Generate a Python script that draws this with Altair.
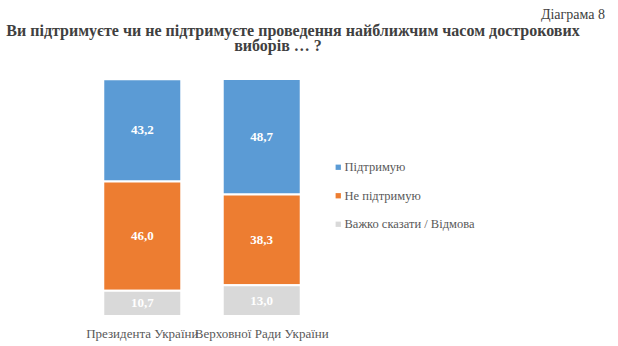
import altair as alt
import pandas as pd

categories = ["Президента України", "Верховної Ради України"]
series = ["Підтримую", "Не підтримую", "Важко сказати / Відмова"]
support = [43.2, 48.7]
oppose = [46.0, 38.3]
hard = [10.7, 13.0]
colors = ["#5b9bd5", "#ed7d31", "#d9d9d9"]
title_lines = ["Ви підтримуєте чи не підтримуєте проведення найближчим часом дострокових", "виборів … ?"]
diagram_label = "Діаграма 8"

rows = []
for i, c in enumerate(categories):
    for s, vals, order in zip(series, [support, oppose, hard], [3, 2, 1]):
        rows.append({"cat": c, "series": s, "value": vals[i], "ord": order})
df = pd.DataFrame(rows)

SERIF = "Liberation Serif, Times New Roman, serif"

base = alt.Chart(df).transform_stack(
    stack="value", groupby=["cat"], sort=[alt.SortField("ord", order="ascending")], as_=["y0", "y1"]
).transform_calculate(
    mid="(datum.y0 + datum.y1) / 2",
    label="replace(format(datum.value, '.1f'), '.', ',')",
)

x_enc = alt.X(
    "cat:N",
    sort=categories,
    title=None,
    scale=alt.Scale(paddingInner=0.347, paddingOuter=0.178),
    axis=alt.Axis(
        domain=False, ticks=False, labelAngle=0, labelFont=SERIF, labelFontSize=13,
        labelColor="#595959", labelPadding=11, labelOverlap=False, labelLimit=300,
    ),
)
y_scale = alt.Scale(domain=[0, 100], nice=False)

bars = base.mark_bar(stroke="white", strokeWidth=2).encode(
    x=x_enc,
    y=alt.Y("y0:Q", scale=y_scale, axis=None),
    y2="y1:Q",
    color=alt.Color(
        "series:N",
        scale=alt.Scale(domain=series, range=colors),
        legend=alt.Legend(
            title=None, orient="none", legendX=250, legendY=82, symbolType="square",
            symbolSize=28, symbolStrokeWidth=0, labelFont=SERIF, labelFontSize=12.5,
            labelColor="#595959", rowPadding=15.5, labelOffset=0,
        ),
    ),
)

texts = base.mark_text(font=SERIF, fontSize=13, fontWeight="bold", color="white").encode(
    x=alt.X("cat:N", sort=categories),
    y=alt.Y("mid:Q", scale=y_scale),
    text="label:N",
)

diag = alt.Chart(pd.DataFrame({"t": [diagram_label]})).mark_text(
    font=SERIF, fontSize=14, color="#404040", align="right", baseline="alphabetic"
).encode(x=alt.value(523), y=alt.value(-60), text="t:N")

title1 = alt.Chart(pd.DataFrame({"t": [title_lines[0]]})).mark_text(
    font=SERIF, fontSize=16, fontWeight="bold", color="#404040", align="center", baseline="alphabetic"
).encode(x=alt.value(211), y=alt.value(-43), text="t:N")

title2 = alt.Chart(pd.DataFrame({"t": [title_lines[1]]})).mark_text(
    font=SERIF, fontSize=16, fontWeight="bold", color="#404040", align="center", baseline="alphabetic"
).encode(x=alt.value(196), y=alt.value(-28.5), text="t:N")

chart = alt.layer(bars, texts, diag, title1, title2).properties(
    width=240,
    height=237,
    padding={"left": 82, "top": 79, "right": 296, "bottom": 30},
    autosize=alt.AutoSizeParams(type="none"),
).configure_view(stroke=None)

chart.save("out.html", embed_options={"renderer": "svg", "actions": False})
